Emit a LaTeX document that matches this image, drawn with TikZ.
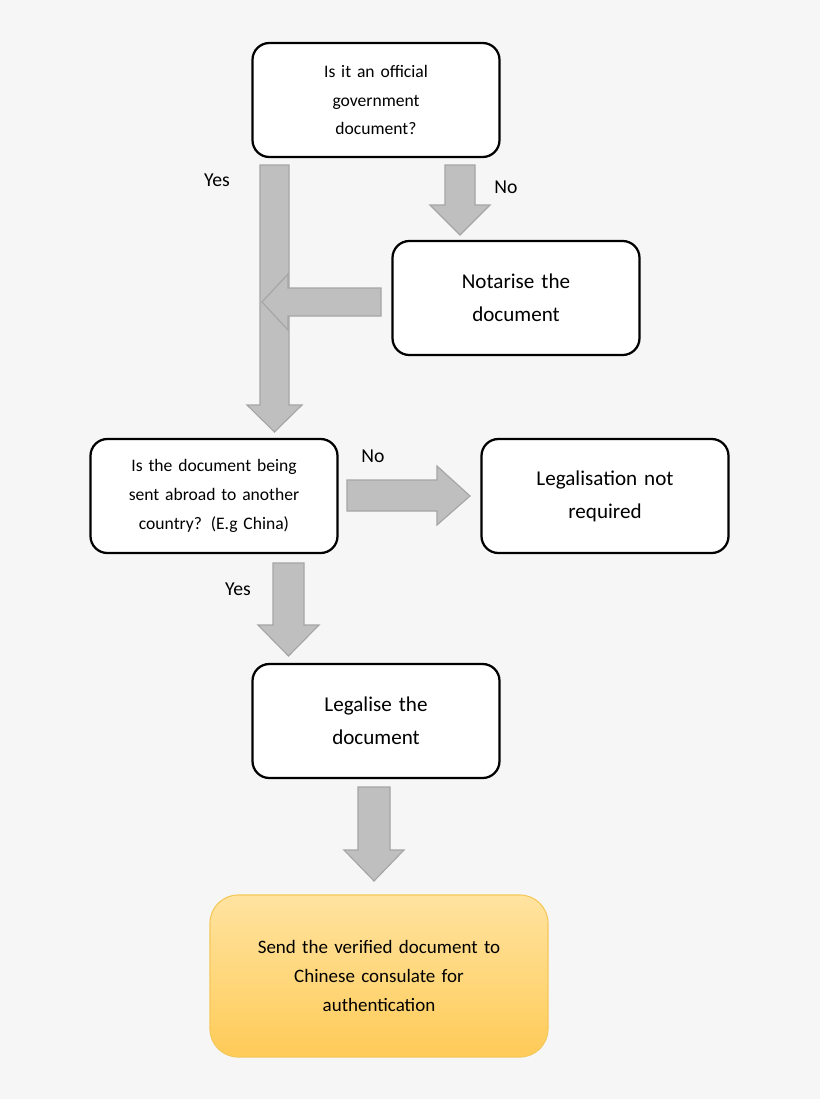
\documentclass[tikz,border=0pt]{standalone}
\usepackage{fontspec}
\setmainfont{Carlito}
\usetikzlibrary{positioning}
\definecolor{bgcol}{HTML}{F6F6F6}
\definecolor{arrfill}{HTML}{BFBFBF}
\definecolor{arredge}{HTML}{A5A5A5}
\definecolor{sendtop}{HTML}{FFE3A0}
\definecolor{sendbot}{HTML}{FFCB58}
\definecolor{sendedge}{HTML}{F5C85A}
\newcommand{\pxu}{*0.025cm}
\tikzset{
  stepbox/.style={draw=black, line width=1.6pt, rounded corners=12pt, fill=white,
    minimum width=247\pxu, minimum height=114\pxu, align=center, text width=220\pxu},
  small/.style={font=\fontsize{12.5}{20.5}\selectfont},
  big/.style={font=\fontsize{15}{23.5}\selectfont},
  final/.style={draw=sendedge, line width=0.8pt, rounded corners=20pt,
    top color=sendtop, bottom color=sendbot, minimum width=338\pxu,
    minimum height=162\pxu, align=center, text width=300\pxu,
    font=\fontsize{13.5}{20.5}\selectfont},
  garrow/.style={fill=arrfill, draw=arredge, line width=0.8pt},
  lbl/.style={font=\fontsize{14}{16}\selectfont}
}
% down arrow: x-left, x-right of shaft, y-top, y-headbase, head-left, head-right, y-tip
\newcommand{\blockdown}[7]{%
  \draw[garrow] (#1,#3) -- (#2,#3) -- (#2,#4) -- (#6,#4) -- ({(#1+#2)/2},#7)
    -- (#5,#4) -- (#1,#4) -- cycle;}
\begin{document}
\begin{tikzpicture}[x=0.025cm, y=-0.025cm]
  \fill[bgcol] (0,0) rectangle (820,1099);
  \useasboundingbox (0,0) rectangle (820,1099);

  % arrows
  \blockdown{260}{289}{165}{405}{247}{302}{432}
  \blockdown{445}{475}{165}{205}{430}{490}{235}
  \draw[garrow] (381,288) -- (288,288) -- (288,274) -- (262,302) -- (288,330)
    -- (288,316) -- (381,316) -- cycle;
  \draw[garrow] (347,480) -- (437,480) -- (437,466) -- (470,496) -- (437,525)
    -- (437,511) -- (347,511) -- cycle;
  \blockdown{273}{304}{563}{625}{258}{319}{656}
  \blockdown{358}{390}{787}{850}{344}{404}{881}

  % boxes
  \node[stepbox, small] (official) at (376,100) {Is it an official\\government\\document?};
  \node[stepbox, big] (notarise) at (516,298) {Notarise the\\document};
  \node[stepbox, small] (abroad) at (214,496) {Is the document being\\sent abroad to another\\country? (E.g China)};
  \node[stepbox, big] (notreq) at (605,496) {Legalisation not\\required};
  \node[stepbox, big] (legalise) at (376,721) {Legalise the\\document};
  \node[final] (send) at (379,976) {Send the verified document to\\Chinese consulate for\\authentication};

  % labels
  \node[lbl] (yes1) at (217,180) {Yes};
  \node[lbl] (no1) at (506,187) {No};
  \node[lbl] (no2) at (373,456) {No};
  \node[lbl] (yes2) at (238,589) {Yes};
\end{tikzpicture}
\end{document}
